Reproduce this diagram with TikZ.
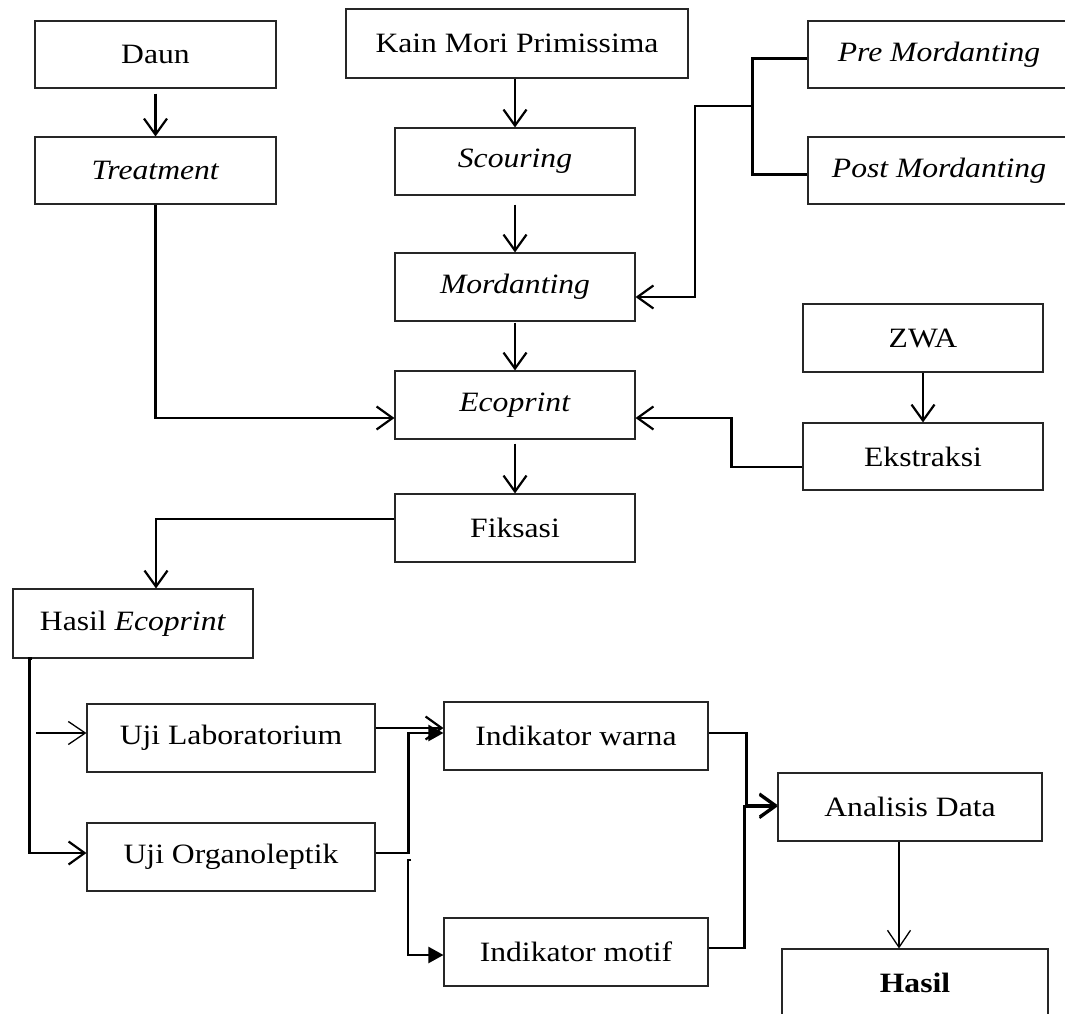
\documentclass[tikz,border=0pt]{standalone}
\usepackage{fontspec}
\setmainfont{Liberation Serif}[FakeStretch=1.13]
\usetikzlibrary{arrows.meta,calc}
\newcommand{\fs}{\fontsize{28}{32}\selectfont}
\begin{document}
\begin{tikzpicture}[x=1pt,y=-1pt,
  box/.style={draw=black!85, line width=1.1pt, rectangle, inner sep=0pt, minimum height=68pt, font=\fs},
  con/.style={line width=2.2pt, black},
  thin/.style={line width=1.3pt, black},
  barb/.style={-{Straight Barb[length=16pt,width=23pt,line width=2.2pt]}},
  tbarb/.style={-{Straight Barb[length=17pt,width=23pt,line width=1.3pt]}},
  tri/.style={-{Triangle[length=15pt,width=16pt]}}]
\useasboundingbox (0,0) rectangle (1065,1014);
\clip (0,0) rectangle (1065,1014);
% nodes
\node[box, minimum width=241pt, minimum height=67pt] (daun) at (155.5,54.5) {Daun};
\node[box, minimum width=241pt, minimum height=67pt] (treat) at (155.5,170.5) {\textit{Treatment}};
\node[box, minimum width=342pt, minimum height=69pt] (kain) at (517,43.5) {Kain Mori Primissima};
\node[box, minimum width=240pt, minimum height=67pt] (scour) at (515,161.5) {\textit{Scouring}};
\node[box, minimum width=240pt] (mord) at (515,287) {\textit{Mordanting}};
\node[box, minimum width=262pt, minimum height=67pt] (pre) at (939,54.5) {\textit{Pre Mordanting}};
\node[box, minimum width=262pt, minimum height=67pt] (post) at (939,170.5) {\textit{Post Mordanting}};
\node[box, minimum width=240pt] (zwa) at (923,338) {ZWA};
\node[box, minimum width=240pt, minimum height=67pt] (ekstr) at (923,456.5) {Ekstraksi};
\node[box, minimum width=240pt] (eco) at (515,405) {\textit{Ecoprint}};
\node[box, minimum width=240pt] (fiks) at (515,528) {Fiksasi};
\node[box, minimum width=240pt, minimum height=69pt] (he) at (133,623.5) {Hasil \textit{Ecoprint}};
\node[box, minimum width=288pt] (lab) at (231,738) {Uji Laboratorium};
\node[box, minimum width=288pt] (org) at (231,857) {Uji Organoleptik};
\node[box, minimum width=264pt] (iw) at (576,736) {Indikator warna};
\node[box, minimum width=264pt] (im) at (576,952) {Indikator motif};
\node[box, minimum width=264pt] (ad) at (910,807) {Analisis Data};
\node[box, minimum width=266pt] (hasil) at (915,983) {\textbf{Hasil}};
% helper coordinates
\coordinate (j) at (753,106);
\coordinate (la) at ([yshift=10pt]lab.east);
\coordinate (hx) at ([xshift=-16pt]hasil.north);
\coordinate (s) at (411,860);
\coordinate (ls) at (36,733);
% connectors
\draw[con,barb,shorten <=5pt] (daun.south) -- (treat.north);
\draw[con,barb] (scour.north |- kain.south) -- (scour.north);
\draw[con,barb,shorten <=9pt] (scour.south) -- (mord.north);
\draw[con,barb,shorten <=1pt] (mord.south) -- (eco.north);
\draw[con,barb,shorten <=4pt] (eco.south) -- (fiks.north);
\draw[con,barb] (zwa.south) -- (ekstr.north);
\draw[con,barb] (treat.south) |- ([yshift=-13pt]eco.west);
\draw[con] ([yshift=-4pt]pre.west) -- ++(-55,0) |- ([yshift=-4pt]post.west);
\draw[con,barb] (j) -- ++(-58,0) |- ([yshift=-10pt]mord.east);
\draw[con,barb] ([yshift=-10.5pt]ekstr.west) -- ++(-71,0) |- ([yshift=-13pt]eco.east);
\draw[con,barb] ([yshift=9pt]fiks.west) -| ([xshift=23pt]he.north);
\draw[con,barb] ([xshift=20pt]he.south west) -- ([xshift=17pt]he.south west) |- ([yshift=4pt]org.west);
\draw[thin,tbarb] (ls) -- (ls -| lab.west);
\draw[con,barb] (la) -- (la -| iw.west);
\draw[con,tri] ([yshift=4pt]org.east) -- ++(33,0) |- ([yshift=3pt]iw.west);
\draw[con,tri] (s) -- ++(-3,0) |- ([yshift=-3pt]im.west);
\draw[con,barb] ([yshift=3pt]iw.east) -- ++(38,0) |- ([yshift=2pt]ad.west);
\draw[con,barb] ([yshift=4pt]im.east) -- ++(36,0) |- ([yshift=0.5pt]ad.west);
\draw[thin,tbarb] (hx |- ad.south) -- (hx);
\end{tikzpicture}
\end{document}
